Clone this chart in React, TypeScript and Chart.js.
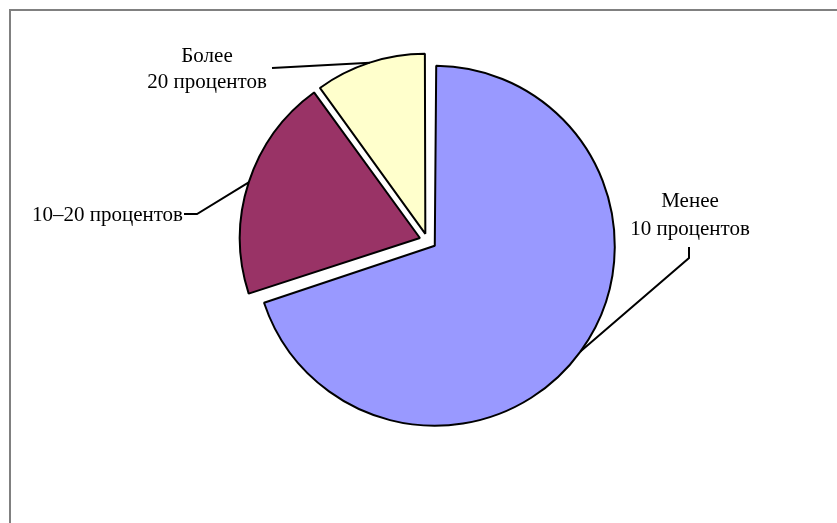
import React, { useEffect, useRef } from "react";
import { Chart, registerables } from "chart.js";

Chart.register(...registerables);

// ---- data ----
const categories: string[] = ["Менее 10 процентов", "10–20 процентов", "Более 20 процентов"];
const labelLines: string[][] = [["Менее", "10 процентов"], ["10–20 процентов"], ["Более", "20 процентов"]];
const values: number[] = [70, 20, 10];
const colors: string[] = ["#9999FF", "#993366", "#FFFFCC"];
const explode: number[] = [36, 32, 28];

const PIE_RADIUS = 180;

// ---- label layout (text positions and leader-line start points) ----
type LabelLayout = {
  align: CanvasTextAlign;
  x: number;
  baselines: number[];
  leader: [number, number][];
};
const labelLayout: LabelLayout[] = [
  { align: "center", x: 690, baselines: [207, 235], leader: [[689, 247], [689, 258]] },
  { align: "right", x: 183, baselines: [221], leader: [[184, 214], [197, 214]] },
  { align: "center", x: 207, baselines: [62, 88], leader: [[272, 68]] },
];

const radiusFix = (circumference: number) => 1 - Math.sin(Math.min(Math.PI, circumference));

// keeps each exploded slice at the same visible radius
const equalRadiusPlugin = {
  id: "equalRadius",
  afterDatasetUpdate(chart: any, args: any) {
    const meta = chart.getDatasetMeta(args.index);
    meta.data.forEach((arc: any, i: number) => {
      const off = explode[i] / 4;
      arc.outerRadius = PIE_RADIUS - off * radiusFix(arc.circumference);
    });
  },
};

const labelPlugin = {
  id: "pieLabels",
  afterDatasetsDraw(chart: any) {
    const ctx: CanvasRenderingContext2D = chart.ctx;
    const meta = chart.getDatasetMeta(0);
    ctx.save();
    ctx.font = '21px "Liberation Serif", "Times New Roman", serif';
    ctx.fillStyle = "#000";
    ctx.strokeStyle = "#000";
    ctx.lineWidth = 2;
    ctx.textBaseline = "alphabetic";
    meta.data.forEach((arc: any, i: number) => {
      const p = arc.getProps(["x", "y", "startAngle", "endAngle", "outerRadius", "circumference"], true);
      const off = explode[i] / 4;
      const mid = (p.startAngle + p.endAngle) / 2;
      const r = p.outerRadius + off * radiusFix(p.circumference);
      const ax = p.x + Math.cos(mid) * (off + r);
      const ay = p.y + Math.sin(mid) * (off + r);
      const L = labelLayout[i];
      ctx.beginPath();
      ctx.moveTo(L.leader[0][0], L.leader[0][1]);
      for (let k = 1; k < L.leader.length; k++) ctx.lineTo(L.leader[k][0], L.leader[k][1]);
      ctx.lineTo(ax, ay);
      ctx.stroke();
      ctx.textAlign = L.align;
      labelLines[i].forEach((t, k) => ctx.fillText(t, L.x, L.baselines[k]));
    });
    ctx.restore();
  },
};

export default function App() {
  const ref = useRef<HTMLCanvasElement | null>(null);
  useEffect(() => {
    if (!ref.current) return;
    const chart = new Chart(ref.current, {
      type: "pie",
      data: {
        labels: categories,
        datasets: [
          {
            data: values,
            backgroundColor: colors,
            borderColor: "#000000",
            borderWidth: 2,
            offset: explode,
            radius: PIE_RADIUS,
          } as any,
        ],
      },
      options: {
        animation: false,
        responsive: false,
        maintainAspectRatio: false,
        events: [],
        layout: { padding: { left: 18, right: 0, top: 0, bottom: 42 } },
        plugins: { legend: { display: false }, tooltip: { enabled: false } },
      },
      plugins: [equalRadiusPlugin, labelPlugin],
    });
    return () => chart.destroy();
  }, []);

  return (
    <div
      style={{
        position: "absolute",
        left: 0,
        top: 0,
        width: 837,
        height: 523,
        overflow: "hidden",
        background: "#fff",
      }}
    >
      <div
        style={{
          position: "absolute",
          left: 9,
          top: 9,
          width: 900,
          height: 600,
          borderTop: "2px solid #808080",
          borderLeft: "2px solid #808080",
        }}
      />
      <canvas
        ref={ref}
        width={837}
        height={523}
        style={{ position: "absolute", left: 0, top: 0, width: 837, height: 523, display: "block" }}
      />
    </div>
  );
}
